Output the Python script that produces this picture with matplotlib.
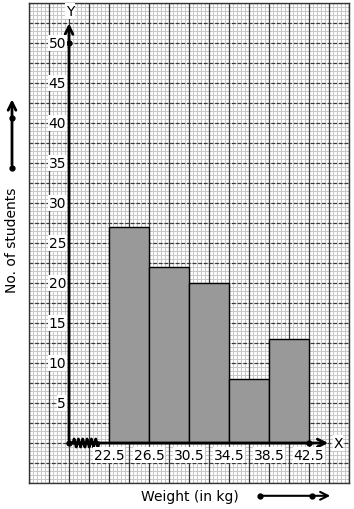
import numpy as np
import matplotlib
matplotlib.use("Agg")
import matplotlib.pyplot as plt

# data
class_edges = [22.5, 26.5, 30.5, 34.5, 38.5, 42.5]
students = [27, 22, 20, 8, 13]
y_ticks = [5, 10, 15, 20, 25, 30, 35, 40, 45, 50]
x_labels = ["22.5", "26.5", "30.5", "34.5", "38.5", "42.5"]

fig = plt.figure(figsize=(3.54, 5.10), dpi=100)
ax = fig.add_axes([29 / 354, 26 / 510, 320 / 354, 480 / 510])
ax.set_xlim(14.5, 46.5)
ax.set_ylim(-5, 55)
ax.set_xticks([])
ax.set_yticks([])
for s in ax.spines.values():
    s.set_color("#333333")
    s.set_linewidth(1)

# graph paper
for x in np.arange(14.5, 46.51, 0.4):
    ax.axvline(x, color="#c8c8c8", lw=0.75, zorder=0)
for y in np.arange(-5, 55.01, 0.5):
    ax.axhline(y, color="#c8c8c8", lw=0.75, zorder=0)
for x in np.arange(14.5, 46.51, 2):
    ax.axvline(x, color="#3a3a3a", lw=0.9, zorder=0.5)
for y in np.arange(-5, 55.01, 2.5):
    ax.axhline(y, color="#3a3a3a", lw=0.9, ls=(0, (3, 1.5)), zorder=0.5)

# histogram
ax.bar(class_edges[:-1], students, width=4, align="edge",
       color="#999999", edgecolor="black", lw=1, zorder=2)

# axes lines
ax.annotate("", xy=(18.5, 52.8), xytext=(18.5, 0),
            arrowprops=dict(arrowstyle="->", lw=2, color="black",
                            mutation_scale=14), zorder=3)
ax.annotate("", xy=(44.7, 0), xytext=(18.5, 0),
            arrowprops=dict(arrowstyle="->", lw=2, color="black",
                            mutation_scale=14), zorder=3)
ax.plot([18.5, 18.5, 42.5], [0, 50, 0], "o", color="black", ms=3.5, zorder=4)

# kink on x axis
zx = np.linspace(18.9, 21.5, 25)
zy = np.array([0, 1, 0, -1] * 7)[:25] * 0.5
ax.plot(zx, zy, color="black", lw=2, zorder=4)

ax.text(18.6, 54.0, "Y", ha="center", va="center", fontsize=10,
        bbox=dict(fc="white", ec="none", pad=0.5), zorder=5)
ax.text(45.4, 0, "X", ha="center", va="center", fontsize=10,
        bbox=dict(fc="white", ec="none", pad=0.5), zorder=5)

for v in y_ticks:
    ax.text(18.2, v, str(v), ha="right", va="center", fontsize=10,
            bbox=dict(fc="white", ec="none", pad=0.5), zorder=5)
for x, lab in zip(class_edges, x_labels):
    ax.text(x, -1.5, lab, ha="center", va="center", fontsize=10,
            bbox=dict(fc="white", ec="none", pad=0.5), zorder=5)

# axis titles
ax.text(12.8, 25.5, "No. of students", rotation=90, ha="center", va="center",
        fontsize=10, clip_on=False)
ax.text(30.6, -6.6, "Weight (in kg)", ha="center", va="center",
        fontsize=10, clip_on=False)

# direction arrows outside the grid
ax.annotate("", xy=(12.8, 43.3), xytext=(12.8, 34.4), annotation_clip=False,
            arrowprops=dict(arrowstyle="->", lw=2, color="black",
                            mutation_scale=14))
ax.plot([12.8, 12.8], [40.6, 34.4], "o", color="black", ms=3.5, clip_on=False)
ax.annotate("", xy=(44.9, -6.6), xytext=(37.6, -6.6), annotation_clip=False,
            arrowprops=dict(arrowstyle="->", lw=1.5, color="black",
                            mutation_scale=14))
ax.plot([37.6, 42.8], [-6.6, -6.6], "o", color="black", ms=3.5, clip_on=False)

fig.savefig("out.png", dpi=100)
